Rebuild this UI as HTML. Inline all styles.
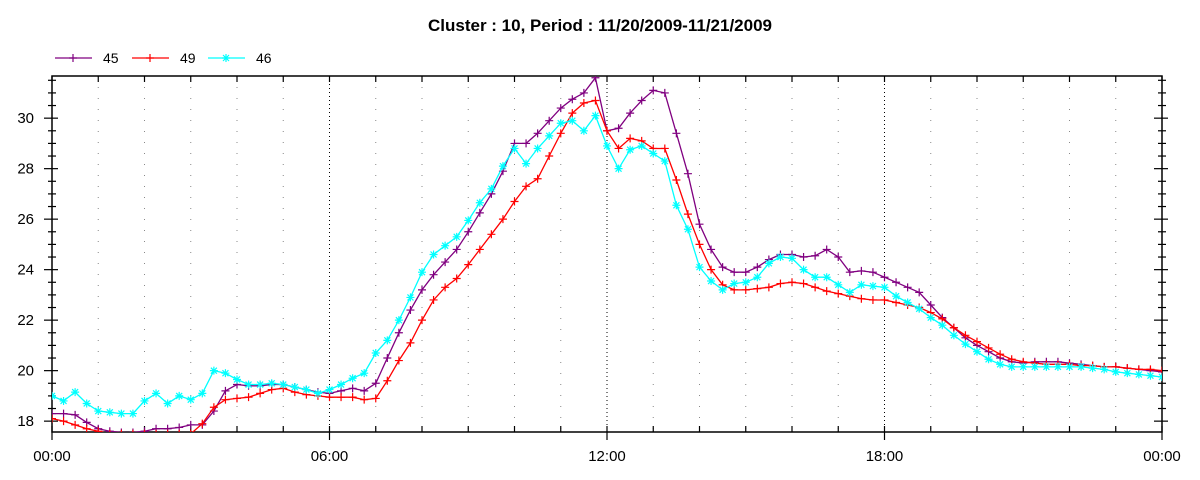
<!DOCTYPE html>
<html><head><meta charset="utf-8"><style>
body{margin:0;background:#fff;}
svg{display:block;font-family:"Liberation Sans",sans-serif;}
</style></head><body>
<svg id="chart" width="1200" height="480" viewBox="0 0 1200 480" xmlns="http://www.w3.org/2000/svg">
<text x="600" y="31" text-anchor="middle" font-size="17" font-weight="bold">Cluster : 10, Period : 11/20/2009-11/21/2009</text>
<g id="legend"></g>
<defs><clipPath id="plotclip"><rect x="52" y="76" width="1110" height="356"/></clipPath></defs>
<g id="grid"></g>
<g id="axes"></g>
<g id="series" clip-path="url(#plotclip)"></g>
</svg>
<script>
const xTickLabels = ["00:00","06:00","12:00","18:00","00:00"];
const yTickLabels = [18,20,22,24,26,28,30];
const seriesNames = ["45","49","46"];
const seriesColors = ["#800080","#ff0000","#00ffff"];
const s45 = [18.3,18.3,18.25,17.95,17.7,17.6,17.55,17.55,17.6,17.7,17.7,17.75,17.85,17.85,18.4,19.2,19.45,19.4,19.4,19.45,19.45,19.35,19.25,19.15,19.1,19.2,19.3,19.2,19.5,20.5,21.5,22.4,23.2,23.8,24.3,24.8,25.5,26.25,27.0,27.9,29.0,29.0,29.4,29.9,30.4,30.75,31.0,31.6,29.5,29.6,30.2,30.7,31.1,31.0,29.4,27.8,25.8,24.8,24.1,23.9,23.9,24.1,24.4,24.6,24.6,24.5,24.55,24.8,24.5,23.9,23.95,23.9,23.7,23.5,23.3,23.1,22.6,22.1,21.7,21.3,21.0,20.75,20.5,20.35,20.3,20.35,20.35,20.35,20.3,20.25,20.2,20.15,20.15,20.1,20.05,20.0,19.95];
const s49 = [18.1,18.0,17.85,17.7,17.6,17.5,17.5,17.5,17.5,17.5,17.5,17.5,17.5,17.9,18.55,18.85,18.9,18.95,19.1,19.25,19.3,19.15,19.05,19.0,18.95,18.95,18.95,18.85,18.9,19.6,20.4,21.1,22.0,22.8,23.3,23.65,24.2,24.8,25.4,26.0,26.7,27.3,27.6,28.5,29.4,30.2,30.6,30.7,29.5,28.8,29.2,29.1,28.8,28.8,27.55,26.2,25.0,24.0,23.4,23.2,23.2,23.25,23.3,23.45,23.5,23.45,23.3,23.15,23.05,22.95,22.85,22.8,22.8,22.7,22.6,22.5,22.3,22.05,21.7,21.4,21.15,20.9,20.65,20.45,20.35,20.3,20.25,20.25,20.25,20.2,20.2,20.15,20.15,20.1,20.05,20.05,20.0];
const s46 = [19.0,18.8,19.15,18.7,18.4,18.35,18.3,18.3,18.8,19.1,18.7,19.0,18.85,19.1,20.0,19.9,19.65,19.45,19.45,19.5,19.45,19.35,19.25,19.1,19.25,19.45,19.7,19.9,20.7,21.2,22.0,22.9,23.9,24.6,24.95,25.3,25.95,26.65,27.2,28.1,28.8,28.2,28.8,29.3,29.8,29.9,29.5,30.1,28.9,28.0,28.75,28.9,28.6,28.3,26.55,25.6,24.1,23.55,23.2,23.45,23.5,23.7,24.25,24.5,24.45,24.0,23.7,23.7,23.4,23.1,23.4,23.35,23.3,22.95,22.7,22.45,22.1,21.8,21.4,21.05,20.75,20.45,20.25,20.15,20.15,20.15,20.15,20.15,20.15,20.15,20.1,20.05,19.95,19.9,19.85,19.8,19.75];

const NS="http://www.w3.org/2000/svg";
const L=52,R=1162,T=76,B=432;
const yMin=17.57,yMax=31.67,xMaxH=24;
function xs(h){return L+(h/xMaxH)*(R-L);}
function ys(v){return B-(v-yMin)/(yMax-yMin)*(B-T);}
function mk(tag,attrs,parent){const e=document.createElementNS(NS,tag);for(const k in attrs)e.setAttribute(k,attrs[k]);parent.appendChild(e);return e;}
const grid=document.getElementById('grid'),axes=document.getElementById('axes'),ser=document.getElementById('series'),leg=document.getElementById('legend');

// vertical dotted grid each hour
for(let h=1;h<24;h++){
  const major=h%6===0;
  const g=mk('line',{x1:xs(h),x2:xs(h),y1:T,y2:B,stroke:major?'#000':'#888','stroke-width':1,'stroke-dasharray':major?'1,3':'1,10'},grid);
  
  
}
// frame
const fr=mk('rect',{x:L,y:T,width:R-L,height:B-T,fill:'none',stroke:'#000','stroke-width':1.5},axes);


// y ticks
for(let v=18;v<=31.5;v+=0.5){
  const y=ys(v);const maj=(v%2===0);
  for(const xa of [L,R]){
    const t=mk('line',{x1:xa-(maj?8:4),x2:xa+(maj?6:4),y1:y,y2:y,stroke:'#000','stroke-width':1.2},axes);
    
    
  }
}
yTickLabels.forEach(v=>{
  const t=mk('text',{x:34,y:ys(v)+5,'text-anchor':'end','font-size':15},axes);
  t.textContent=v;
  
  
});
// x ticks
for(let h=0;h<=24;h++){
  const x=xs(h);const maj=h%6===0;
  const t=mk('line',{x1:x,x2:x,y1:B-6,y2:B+(maj?8:0),stroke:'#000','stroke-width':1.2},axes);
  
  
  const t2=mk('line',{x1:x,x2:x,y1:T,y2:T+6,stroke:'#000','stroke-width':1.2},axes);
  
  
}
xTickLabels.forEach((s,i)=>{
  const t=mk('text',{x:xs(i*6),y:461,'text-anchor':'middle','font-size':15},axes);
  t.textContent=s;
  
  
});
function marker(g,x,y,c,star){
  let d=`M${x-4},${y}H${x+4}M${x},${y-4}V${y+4}`;
  if(star)d+=`M${x-3},${y-3}L${x+3},${y+3}M${x-3},${y+3}L${x+3},${y-3}`;
  const m=mk('path',{d:d,stroke:c,'stroke-width':1.2,fill:'none'},g);
  
  
}
[s45,s49,s46].forEach((arr,si)=>{
  const c=seriesColors[si];
  const g=mk('g',{},ser);
  
  
  const pts=arr.map((v,i)=>xs(i*0.25).toFixed(1)+','+ys(v).toFixed(1)).join(' ');
  const pl=mk('polyline',{points:pts,fill:'none',stroke:c,'stroke-width':1.3},g);
  
  
  arr.forEach((v,i)=>marker(g,xs(i*0.25),ys(v),c,si===2));
  // legend
  const lx=[55,132,208][si];
  const lg=mk('g',{},leg);
  
  
  mk('line',{x1:lx,x2:lx+37,y1:58,y2:58,stroke:c,'stroke-width':1.3},lg);
  marker(lg,lx+18,58,c,si===2);
  const tx=mk('text',{x:lx+48,y:63,'font-size':14},lg);
  tx.textContent=seriesNames[si];
});
</script>
</body></html>
